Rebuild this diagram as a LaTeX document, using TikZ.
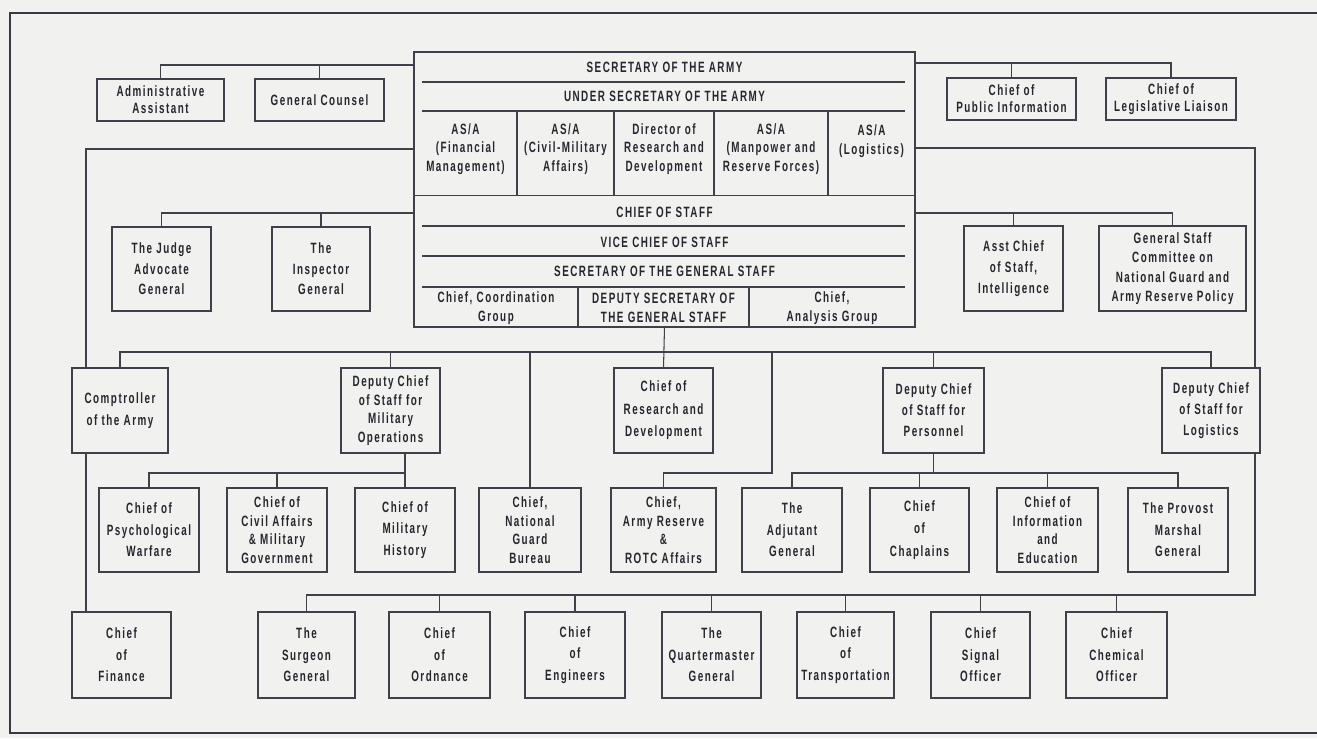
\documentclass[tikz,border=0pt]{standalone}
\usepackage{fontspec}
\newfontfamily\cf[FakeStretch=0.66,LetterSpace=10]{Liberation Sans}
\definecolor{bgc}{HTML}{F1F1EF}
\definecolor{lnc}{HTML}{3E414A}
\definecolor{txc}{HTML}{25272E}
\pgfdeclarelayer{bglayer}
\pgfdeclarelayer{linelayer}
\pgfsetlayers{bglayer,linelayer,main}
\newcommand\fs[1]{\fontsize{8.5}{#1}\selectfont}
\tikzset{
  box/.style={draw=lnc, fill=bgc, line width=0.65pt, inner sep=0pt, outer sep=0pt,
    align=center, text=txc, font=\cf\bfseries\fs{12.3}},
  tight/.style={font=\cf\bfseries\fs{10.6}},
  top2/.style={font=\cf\bfseries\fs{9.6}},
  cell/.style={inner sep=0pt, align=center, text=txc, font=\cf\bfseries\fs{10.6}},
  conn/.style={draw=lnc, line width=0.6pt},
  rule/.style={draw=lnc, line width=0.6pt},
  frame/.style={draw=lnc!90!black, line width=1.2pt}
}
\newcommand\bx[7][]{\node[box,#1,minimum width={(#4-#3)*0.02cm},minimum height={(#6-#5)*0.02cm}] (#2) at ({(#3+#4)/2},{(#5+#6)/2}) {#7};}
\begin{document}
\begin{tikzpicture}[x=0.02cm,y=-0.02cm]
\begin{pgfonlayer}{bglayer}
\fill[bgc] (0,0) rectangle (1317,738);
\end{pgfonlayer}
\useasboundingbox (0,0) rectangle (1317,738);
\draw[frame] (1317,13) -- (10,13) -- (10,733) -- (1317,733);

% central table
\bx{sec}{414}{915}{52}{327}{}
\node[cell] (s1) at (664.5,67) {SECRETARY OF THE ARMY};
\node[cell] (s2) at (664.5,96.5) {UNDER SECRETARY OF THE ARMY};
\node[cell] (a1) at (465.5,149) {AS/A\\(Financial\\Management)};
\node[cell] (a2) at (565.5,149) {AS/A\\(Civil-Military\\Affairs)};
\node[cell] (a3) at (664,149) {Director of\\Research and\\Development};
\node[cell] (a4) at (771,149) {AS/A\\(Manpower and\\Reserve Forces)};
\node[cell] (a5) at (871.5,149) {AS/A\\(Logistics)\\\mbox{}};
\node[cell] (c1) at (664.5,212) {CHIEF OF STAFF};
\node[cell] (c2) at (664.5,242) {VICE CHIEF OF STAFF};
\node[cell] (c3) at (664.5,271) {SECRETARY OF THE GENERAL STAFF};
\node[cell] (g1) at (496,308) {Chief, Coordination\\Group};
\node[cell] (g2) at (663.5,308) {DEPUTY SECRETARY OF\\THE GENERAL STAFF};
\node[cell] (g3) at (832,308) {Chief,\\Analysis Group};
\draw[rule] (422,82) -- (905,82);
\draw[rule] (422,111) -- (905,111);
\draw[rule] (414,195.5) -- (915,195.5);
\draw[rule] (422,226) -- (905,226);
\draw[rule] (422,256) -- (905,256);
\draw[rule] (422,287) -- (905,287);
\foreach \cx in {517,614,714,828} \draw[rule] (\cx,111) -- (\cx,195.5);
\foreach \cx in {578,749} \draw[rule] (\cx,287) -- (\cx,327);

% top row
\bx[top2]{admin}{97}{224}{79}{121}{Administrative\\Assistant}
\bx[top2]{gc}{255}{384}{79}{121}{General Counsel}
\bx[top2]{cpi}{947}{1076}{78}{120}{Chief of\\Public Information}
\bx[top2]{cll}{1106}{1236}{78}{120}{Chief of\\Legislative Liaison}
% second row
\bx[font=\cf\bfseries\fs{11.6}]{jag}{112}{211}{227}{311}{The Judge\\Advocate\\General}
\bx[font=\cf\bfseries\fs{11.6}]{ig}{272}{370}{227}{311}{The\\Inspector\\General}
\bx[font=\cf\bfseries\fs{11.8}]{acsi}{964}{1063}{226}{311}{Asst Chief\\of Staff,\\Intelligence}
\bx[font=\cf\bfseries\fs{11}]{gsc}{1099}{1246}{226}{311}{General Staff\\Committee on\\National Guard and\\Army Reserve Policy}
% third row
\bx[font=\cf\bfseries\fs{12.5}]{comp}{72}{168}{368}{453}{Comptroller\\of the Army}
\bx[tight]{dcsops}{341}{440}{368}{453}{Deputy Chief\\of Staff for\\Military\\Operations}
\bx[font=\cf\bfseries\fs{12.8}]{crd}{614}{713}{368}{453}{Chief of\\Research and\\Development}
\bx[font=\cf\bfseries\fs{12}]{dcsper}{883}{984}{368}{453}{Deputy Chief\\of Staff for\\Personnel}
\bx[font=\cf\bfseries\fs{12}]{dcslog}{1162}{1260}{368}{453}{Deputy Chief\\of Staff for\\Logistics}
% fourth row
\bx{psy}{99}{199}{488}{572}{Chief of\\Psychological\\Warfare}
\bx[tight]{cam}{227}{327}{488}{572}{Chief of\\Civil Affairs\\\& Military\\Government}
\bx{cmh}{355}{455}{488}{572}{Chief of\\Military\\History}
\bx[tight]{ngb}{479}{581}{488}{572}{Chief,\\National\\Guard\\Bureau}
\bx[tight]{arr}{611}{716}{488}{572}{Chief,\\Army Reserve\\\&\\ROTC Affairs}
\bx{tag}{742}{842}{488}{572}{The\\Adjutant\\General}
\bx[font=\cf\bfseries\fs{12.7}]{chap}{870}{969}{488}{572}{Chief\\of\\Chaplains}
\bx[tight]{cie}{997}{1098}{488}{572}{Chief of\\Information\\and\\Education}
\bx{pmg}{1128}{1228}{488}{572}{The Provost\\Marshal\\General}
% bottom row
\bx{fin}{72}{171}{612}{698}{Chief\\of\\Finance}
\bx{sg}{258}{355}{612}{698}{The\\Surgeon\\General}
\bx{ord}{389}{490}{612}{698}{Chief\\of\\Ordnance}
\bx{eng}{525}{625}{612}{698}{Chief\\of\\Engineers}
\bx{qmg}{662}{761}{612}{698}{The\\Quartermaster\\General}
\bx{trn}{797}{894}{612}{698}{Chief\\of\\Transportation}
\bx{sig}{931}{1030}{612}{698}{Chief\\Signal\\Officer}
\bx{chem}{1066}{1167}{612}{698}{Chief\\Chemical\\Officer}

% connectors
\coordinate (ltop) at (86,149);
\coordinate (rtop) at (1255,148);
\coordinate (rbot) at (1255,595);
\coordinate (r2) at (664,352);
\coordinate (arrv) at (772,352);
\coordinate (sub) at (0,473);
\begin{pgfonlayer}{linelayer}
\draw[conn] (sec.west |- 0,65) -| (admin.north);
\draw[conn] (gc.north) -- (gc.north |- 0,65);
\draw[conn] (sec.east |- 0,63) -| (cll.north);
\draw[conn] (cpi.north) -- (cpi.north |- 0,63);
\draw[conn] (sec.west |- ltop) -- (ltop) -- (ltop |- fin.north);
\draw[conn] (sec.east |- rtop) -- (rtop) -- (rbot) -| (sg.north);
\foreach \n in {ord,eng,qmg,trn,sig,chem} \draw[conn] (\n.north) -- (\n.north |- rbot);
\draw[conn] (sec.west |- 0,213) -| (jag.north);
\draw[conn] (ig.north) -- (ig.north |- 0,213);
\draw[conn] (sec.east |- 0,213) -| (gsc.north);
\draw[conn] (acsi.north) -- (acsi.north |- 0,213);
\draw[conn] (sec.south) -- (crd.north);
\draw[conn] (comp.north) |- (r2) -| (dcslog.north);
\foreach \n in {dcsops,ngb,dcsper} \draw[conn] (\n.north) -- (\n.north |- r2);
\draw[conn] (arrv) -- (arrv |- sub) -| (arr.north);
\draw[conn] (cmh.north |- dcsops.south) -- (cmh.north);
\draw[conn] (psy.north) |- (cmh.north |- sub);
\draw[conn] (cam.north) -- (cam.north |- sub);
\draw[conn] (dcsper.south) -- (dcsper.south |- sub);
\draw[conn] (tag.north) |- (pmg.north |- sub) -- (pmg.north);
\foreach \n in {chap,cie} \draw[conn] (\n.north) -- (\n.north |- sub);
\end{pgfonlayer}
\end{tikzpicture}
\end{document}
